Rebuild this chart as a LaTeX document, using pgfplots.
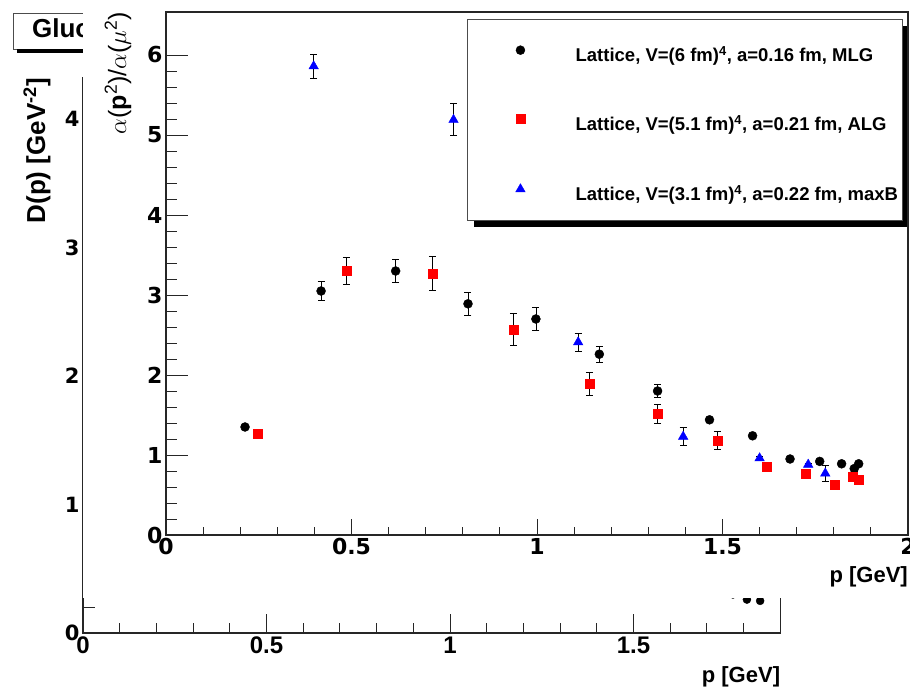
\documentclass[border=0pt]{standalone}
\usepackage{fontspec}
\setmainfont{Liberation Sans}
\newfontfamily\tickfont{DejaVu Sans}
\usepackage{pgfplots}
\usepackage{pgfplotstable}
\pgfplotsset{compat=1.18}

% MLG, V=(6 fm)^4
\pgfplotstableread{
x     y     e
0.213 1.35  0.00
0.418 3.05  0.12
0.619 3.30  0.14
0.814 2.89  0.14
0.997 2.70  0.14
1.168 2.26  0.10
1.325 1.80  0.08
1.465 1.44  0.02
1.581 1.24  0.02
1.682 0.95  0.02
1.762 0.92  0.02
1.821 0.89  0.02
1.855 0.83  0.03
1.867 0.89  0.02
}\mlg
% ALG, V=(5.1 fm)^4
\pgfplotstableread{
x     y     e
0.247 1.26  0.00
0.486 3.30  0.17
0.718 3.27  0.21
0.936 2.57  0.20
1.141 1.89  0.14
1.325 1.51  0.12
1.486 1.18  0.11
1.618 0.85  0.02
1.724 0.77  0.02
1.803 0.63  0.02
1.850 0.73  0.03
1.867 0.69  0.02
}\alg
% maxB, V=(3.1 fm)^4
\pgfplotstableread{
x     y     e
0.398 5.86  0.15
0.775 5.19  0.20
1.111 2.41  0.11
1.394 1.23  0.11
1.600 0.96  0.02
1.731 0.88  0.02
1.777 0.77  0.10
}\maxb
% gluon propagator (pad underneath, mostly hidden)
\pgfplotstableread{
x     y
1.771 0.30
1.809 0.26
1.845 0.25
}\prop

\pgfplotsset{
  rootframe/.style={
    scale only axis, anchor=south west,
    axis line style={line width=1.1pt, black!85},
    tick align=inside, xtick pos=bottom, ytick pos=left,
    every tick/.style={black!85, line width=0.9pt},
    /pgf/number format/assume math mode=true,
    label style={inner sep=0pt},
  },
  lgimg/.style={legend image code/.code={
    \path (-4.5pt,0pt) (55pt,0pt);
    \draw[##1] plot coordinates {(0pt,6.5pt)};}},
  errs/.style={error bars/.cd, y dir=both, y explicit,
    error bar style={black, line width=0.7pt},
    error mark options={rotate=90, black, mark size=3.5pt, line width=0.7pt}},
}

\begin{document}
\begin{tikzpicture}
\path[use as bounding box, clip] (0,0) rectangle (910pt,690pt);

% underlying pad: gluon propagator
\begin{axis}[rootframe,
  at={(83pt,57pt)}, width=697.3pt, height=555pt,
  xmin=0, xmax=1.9, ymin=0, ymax=4.32,
  xtick={0,0.5,...,2}, minor x tick num=4,
  ytick={0,1,...,5}, minor y tick num=4,
  major x tick style={/pgfplots/major tick length=19pt},
  minor x tick style={/pgfplots/minor tick length=9.5pt},
  major y tick style={/pgfplots/major tick length=24pt},
  minor y tick style={/pgfplots/minor tick length=12pt},
  xticklabel style={font=\fontsize{24}{24}\selectfont\bfseries},
  yticklabel style={font=\fontsize{21}{21}\selectfont\tickfont\bfseries},
  xlabel={p [GeV]},
  xlabel style={at={(axis description cs:1,-0.0793)}, anchor=east,
    font=\fontsize{22}{22}\selectfont\bfseries},
  ylabel={D(p) [GeV\textsuperscript{-2}]},
  ylabel style={at={(axis description cs:-0.066,1)}, anchor=east,
    font=\fontsize{26}{26}\selectfont\bfseries},
]
\addplot[only marks, mark=*, mark size=4pt, black] table[x=x, y=y] {\prop};
\end{axis}

\node[draw=black!70, fill=white, line width=0.8pt, anchor=north west,
  minimum height=36pt, inner xsep=19pt, font=\fontsize{26}{26}\selectfont\bfseries]
  (tb) at (12.7pt,677.3pt) {Gluon propagator};
\fill[black] ([xshift=4pt]tb.south west) rectangle ([yshift=-4pt]tb.south east);

% canvas of the upper pad
\fill[white] (83pt,92pt) rectangle (920pt,700pt);

% legend box with shadow
\fill[black] (474pt,463pt) rectangle (909pt,664pt);
\filldraw[draw=black!70, fill=white, line width=0.8pt] (467pt,470pt) rectangle (902pt,671pt);

\begin{axis}[rootframe,
  at={(166pt,155pt)}, width=742pt, height=523pt,
  xmin=0, xmax=2, ymin=0, ymax=6.5375,
  xtick={0,0.5,...,2}, minor x tick num=4,
  ytick={0,1,...,6}, minor y tick num=4,
  major x tick style={/pgfplots/major tick length=16pt},
  minor x tick style={/pgfplots/minor tick length=8pt},
  major y tick style={/pgfplots/major tick length=22pt},
  minor y tick style={/pgfplots/minor tick length=11pt},
  ticklabel style={font=\fontsize{22}{22}\selectfont\tickfont\bfseries},
  xlabel={p [GeV]},
  xlabel style={at={(axis description cs:1,-0.0803)}, anchor=east,
    font=\fontsize{22}{22}\selectfont\bfseries},
  ylabel={$\alpha$(\textbf{p}\textsuperscript{2})/$\alpha$($\mu$\textsuperscript{2})},
  ylabel style={at={(axis description cs:-0.0647,1)}, anchor=east,
    font=\fontsize{25}{25}\selectfont},
  legend cell align=left,
  legend style={draw=none, fill=none, inner sep=0pt, column sep=0pt, row sep=49pt,
    at={(axis description cs:0.4710,0.9360)}, anchor=north west,
    font=\fontsize{18.5}{20}\selectfont\bfseries,
    nodes={inner sep=0pt, text height=14pt, text depth=4pt}},
]
\addplot[only marks, mark=*, mark size=4.5pt, black, lgimg, errs]
  table[x=x, y=y, y error=e] {\mlg};
\addlegendentry{Lattice, V=(6 fm)\textsuperscript{4}, a=0.16 fm, MLG}
\addplot[only marks, mark=square*, mark size=4.5pt, red, lgimg, errs]
  table[x=x, y=y, y error=e] {\alg};
\addlegendentry{Lattice, V=(5.1 fm)\textsuperscript{4}, a=0.21 fm, ALG}
\addplot[only marks, mark=triangle*, mark size=5.5pt, blue, lgimg, errs]
  table[x=x, y=y, y error=e] {\maxb};
\addlegendentry{Lattice, V=(3.1 fm)\textsuperscript{4}, a=0.22 fm, maxB}
\end{axis}
\end{tikzpicture}
\end{document}
